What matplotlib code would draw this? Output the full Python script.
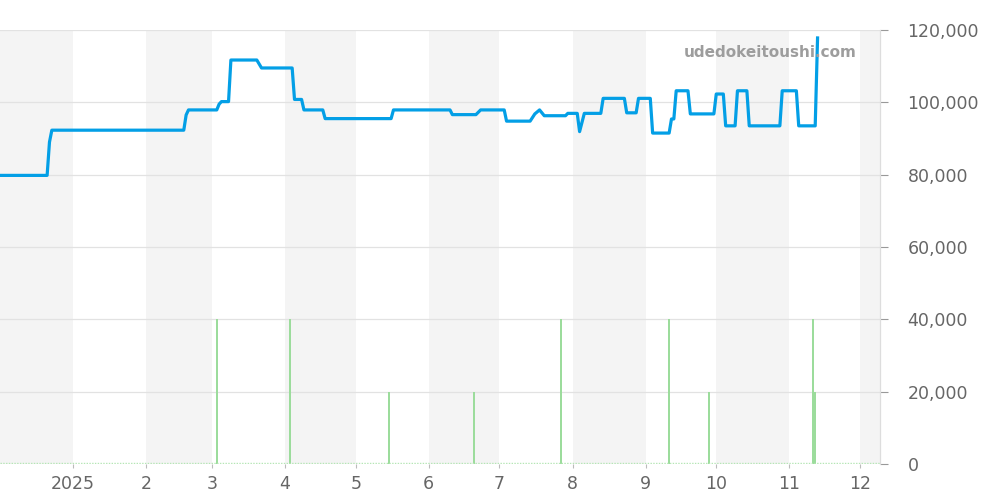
import matplotlib
matplotlib.use("Agg")
import matplotlib.pyplot as plt
import pandas as pd

plt.rcParams["font.family"] = ["DejaVu Sans"]

# ---- data ----
price_dates = ["2024-12-01", "2024-12-21", "2024-12-22", "2024-12-23", "2025-02-17", "2025-02-18",
               "2025-02-19", "2025-03-03", "2025-03-04", "2025-03-05", "2025-03-08", "2025-03-09",
               "2025-03-20", "2025-03-22", "2025-04-04", "2025-04-05", "2025-04-08", "2025-04-09",
               "2025-04-17", "2025-04-18", "2025-05-16", "2025-05-17", "2025-06-10", "2025-06-11",
               "2025-06-21", "2025-06-23", "2025-07-03", "2025-07-04", "2025-07-14", "2025-07-16",
               "2025-07-18", "2025-07-20", "2025-07-29", "2025-07-30", "2025-08-03", "2025-08-04",
               "2025-08-06", "2025-08-13", "2025-08-14", "2025-08-23", "2025-08-24", "2025-08-28",
               "2025-08-29", "2025-09-03", "2025-09-04", "2025-09-11", "2025-09-12", "2025-09-13",
               "2025-09-14", "2025-09-19", "2025-09-20", "2025-09-30", "2025-10-01", "2025-10-04",
               "2025-10-05", "2025-10-09", "2025-10-10", "2025-10-14", "2025-10-15", "2025-10-28",
               "2025-10-29", "2025-11-04", "2025-11-05", "2025-11-12", "2025-11-13"]
price_values = [79800, 79800, 89000, 92300, 92300, 96500,
                97900, 97900, 99500, 100200, 100200, 111700,
                111700, 109500, 109500, 100800, 100800, 97900,
                97900, 95500, 95500, 97900, 97900, 96600,
                96600, 97900, 97900, 94800, 94800, 96800,
                97900, 96300, 96300, 96950, 96950, 91900,
                96950, 96950, 101100, 101100, 97100, 97100,
                101100, 101100, 91500, 91500, 95400, 95400,
                103200, 103200, 96800, 96800, 102300, 102300,
                93500, 93500, 103200, 103200, 93500, 93500,
                103200, 103200, 93500, 93500, 117800]

volume_dates = ["2025-03-03", "2025-04-03", "2025-05-15", "2025-06-20", "2025-07-27",
                "2025-09-11", "2025-09-28", "2025-11-11", "2025-11-12"]
volume_values = [2, 2, 1, 1, 2, 2, 1, 2, 1]

month_ticks = ["2025-01-01", "2025-02-01", "2025-03-01", "2025-04-01", "2025-05-01", "2025-06-01",
               "2025-07-01", "2025-08-01", "2025-09-01", "2025-10-01", "2025-11-01", "2025-12-01"]
month_labels = ["2025", "2", "3", "4", "5", "6", "7", "8", "9", "10", "11", "12"]
shade_months = ["2024-12-01", "2025-02-01", "2025-04-01", "2025-06-01", "2025-08-01",
                "2025-10-01", "2025-12-01"]
y_ticks = [0, 20000, 40000, 60000, 80000, 100000, 120000]

x_start, x_end = pd.Timestamp("2024-12-01"), pd.Timestamp("2025-12-09 12:00")

# ---- figure ----
fig = plt.figure(figsize=(10, 5), dpi=100)
axv = fig.add_axes([0.0, 0.072, 0.88, 0.868])   # background: shading, grid, volume
ax = axv.twinx()                                # foreground: price line, ticks
axv.set_xlim(x_start, x_end)
axv.set_ylim(0, 6)
ax.set_ylim(0, 120000)

for m in shade_months:
    s = pd.Timestamp(m)
    e = s + pd.offsets.MonthBegin(1)
    axv.axvspan(s, min(e, x_end), color="#f4f4f4", lw=0, zorder=0)

for yt in y_ticks[1:]:
    axv.axhline(yt / 20000, color="#e2e2e2", lw=0.9, zorder=1)

axv.bar(pd.to_datetime(volume_dates), volume_values, width=0.9, color="#9cdc9c", zorder=2)
axv.axhline(0.02, color="#b5e6b5", lw=1.0, ls=(0, (1, 1)), zorder=2)
axv.set_yticks([])
for s in axv.spines.values():
    s.set_visible(False)

ax.plot(pd.to_datetime(price_dates), price_values, color="#039fe6", lw=2.3,
        solid_joinstyle="round", zorder=3)

ax.set_yticks(y_ticks)
ax.set_yticklabels([f"{v:,}" for v in y_ticks])
ax.tick_params(axis="y", length=5.8, color="#999999", labelcolor="#666666",
               labelsize=12.5, pad=14, width=0.8)
axv.set_xticks(pd.to_datetime(month_ticks))
axv.set_xticklabels(month_labels)
axv.tick_params(axis="x", length=3, color="#bbbbbb", labelcolor="#666666",
                labelsize=12.5, pad=5, width=0.8)

for name, s in ax.spines.items():
    s.set_visible(name == "right")
ax.spines["right"].set_color("#dddddd")
ax.spines["right"].set_linewidth(0.9)

fig.text(0.857, 0.895, "udedokeitoushi.com", ha="right", va="center",
         fontsize=11, fontweight="bold", color="#9d9d9d")

fig.savefig("out.png", dpi=100)
